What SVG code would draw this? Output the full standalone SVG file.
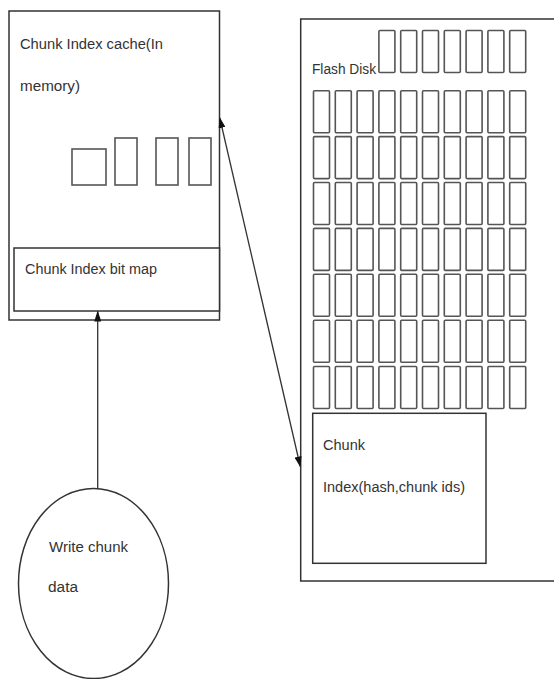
<svg xmlns="http://www.w3.org/2000/svg" width="554" height="679" viewBox="0 0 554 679">
<style>
  .box { fill: #fff; stroke: #333; stroke-width: 1.5; }
  .cell { fill: #fff; stroke: #555; stroke-width: 1.6; }
  .lbl { font-family: "Liberation Sans", Arial, sans-serif; font-size: 15.5px; fill: #333; }
  .conn { stroke: #333; stroke-width: 1.3; fill: none; }
</style>
<defs>
  <marker id="ah" markerWidth="11" markerHeight="7" refX="10" refY="3.5" orient="auto" markerUnits="userSpaceOnUse">
    <path d="M0,0 L11,3.5 L0,7 Z" fill="#111"/>
  </marker>
  <g id="cellrow">
    <rect class="cell" x="313.5" y="0" width="16" height="42" rx="1"/>
    <rect class="cell" x="335.3" y="0" width="16" height="42" rx="1"/>
    <rect class="cell" x="357.1" y="0" width="16" height="42" rx="1"/>
    <rect class="cell" x="378.9" y="0" width="16" height="42" rx="1"/>
    <rect class="cell" x="400.7" y="0" width="16" height="42" rx="1"/>
    <rect class="cell" x="422.5" y="0" width="16" height="42" rx="1"/>
    <rect class="cell" x="444.3" y="0" width="16" height="42" rx="1"/>
    <rect class="cell" x="466.1" y="0" width="16" height="42" rx="1"/>
    <rect class="cell" x="487.9" y="0" width="16" height="42" rx="1"/>
    <rect class="cell" x="509.7" y="0" width="16" height="42" rx="1"/>
  </g>
</defs>
<rect width="554" height="679" fill="#fff"/>

<g id="cache">
  <rect class="box" x="9" y="11" width="210.5" height="309"/>
  <text class="lbl" x="20" y="49" textLength="143" lengthAdjust="spacingAndGlyphs">Chunk Index cache(In</text>
  <text class="lbl" x="20" y="91" textLength="60" lengthAdjust="spacingAndGlyphs">memory)</text>
  <rect class="cell" x="72" y="149" width="34" height="36"/>
  <rect class="cell" x="115" y="138" width="22" height="47"/>
  <rect class="cell" x="156" y="138" width="22" height="47"/>
  <rect class="cell" x="189" y="138" width="22" height="47"/>
</g>

<g id="bitmap">
  <rect class="box" x="14" y="248" width="205.5" height="63"/>
  <text class="lbl" x="25" y="274" textLength="132" lengthAdjust="spacingAndGlyphs">Chunk Index bit map</text>
</g>

<g id="flash">
  <rect class="box" x="300.7" y="19" width="260" height="562"/>
  <text class="lbl" x="312" y="74" textLength="64" lengthAdjust="spacingAndGlyphs">Flash Disk</text>
  <rect class="cell" x="378.9" y="30.5" width="16" height="42" rx="1"/>
  <rect class="cell" x="400.7" y="30.5" width="16" height="42" rx="1"/>
  <rect class="cell" x="422.5" y="30.5" width="16" height="42" rx="1"/>
  <rect class="cell" x="444.3" y="30.5" width="16" height="42" rx="1"/>
  <rect class="cell" x="466.1" y="30.5" width="16" height="42" rx="1"/>
  <rect class="cell" x="487.9" y="30.5" width="16" height="42" rx="1"/>
  <rect class="cell" x="509.7" y="30.5" width="16" height="42" rx="1"/>
  <use href="#cellrow" y="90.7"/>
  <use href="#cellrow" y="136.6"/>
  <use href="#cellrow" y="182.5"/>
  <use href="#cellrow" y="228.4"/>
  <use href="#cellrow" y="274.3"/>
  <use href="#cellrow" y="320.2"/>
  <use href="#cellrow" y="366.5"/>
</g>

<g id="chunkindex">
  <rect class="box" x="312.7" y="413.3" width="173.3" height="150"/>
  <text class="lbl" x="323" y="450" textLength="42" lengthAdjust="spacingAndGlyphs">Chunk</text>
  <text class="lbl" x="323" y="492" textLength="142" lengthAdjust="spacingAndGlyphs">Index(hash,chunk ids)</text>
</g>

<g id="write">
  <ellipse class="box" cx="93.5" cy="583.5" rx="75" ry="95"/>
  <text class="lbl" x="49" y="552" textLength="79" lengthAdjust="spacingAndGlyphs">Write chunk</text>
  <text class="lbl" x="48" y="592" textLength="30" lengthAdjust="spacingAndGlyphs">data</text>
</g>

<g id="connectors">
  <line class="conn" x1="97.7" y1="488.5" x2="97.7" y2="311.5" marker-end="url(#ah)"/>
  <line class="conn" x1="260" y1="292" x2="219.8" y2="118" marker-end="url(#ah)"/>
  <line class="conn" x1="260" y1="292" x2="300.3" y2="466.5" marker-end="url(#ah)"/>
</g>
</svg>
